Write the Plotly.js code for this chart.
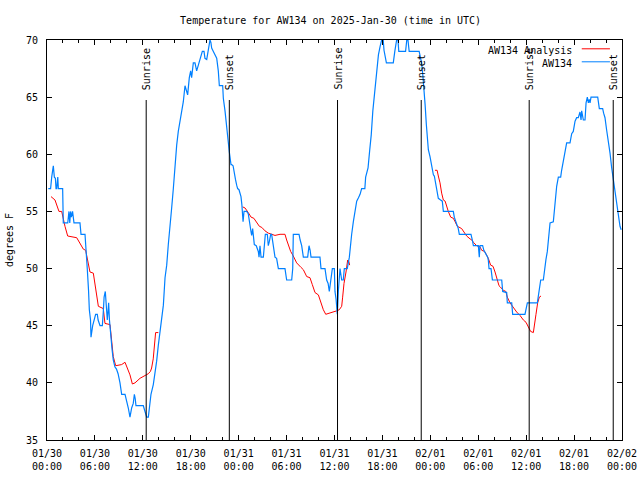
<!DOCTYPE html>
<html>
<head>
<meta charset="utf-8">
<script src="https://cdn.plot.ly/plotly-3.0.1.min.js"></script>
<style>html,body{margin:0;padding:0;background:#fff;}#chart{width:640px;height:480px;}</style>
</head>
<body>
<div id="chart"></div>
<script>
// Hours since 2025-01-30 00:00 UTC
const obsHours = [0.16,0.45,0.59,0.71,0.79,0.92,1.05,1.13,1.21,1.35,1.42,1.54,1.96,2.04,2.6,2.75,2.85,2.95,3.05,3.2,3.38,4.13,4.26,4.76,4.85,4.97,5.05,5.2,5.3,5.45,5.51,5.72,5.9,6.09,6.3,6.4,6.64,6.93,7.05,7.15,7.3,7.4,7.48,7.55,7.65,7.72,7.82,7.97,8.15,8.3,8.5,8.7,8.9,9.14,9.35,9.77,9.98,10.18,10.39,10.6,10.8,10.94,11.05,11.14,12.06,12.2,12.3,12.48,12.69,12.81,13.02,13.31,13.52,13.73,13.94,14.15,14.36,14.57,14.78,14.99,15.19,15.4,15.61,15.82,16.03,16.24,16.44,16.65,16.86,17.07,17.28,17.49,17.61,17.82,17.99,18.11,18.32,18.53,18.74,18.95,19.16,19.45,19.66,19.78,20.0,20.2,20.41,20.52,20.62,20.83,21.25,21.45,21.58,22.0,22.08,22.29,22.5,22.7,22.83,23.04,23.12,23.3,23.46,23.6,23.75,23.87,24.04,24.29,24.4,24.5,24.55,24.67,25.0,25.2,25.33,25.55,25.63,25.75,25.96,26.2,26.46,26.55,26.67,26.8,27.09,27.2,27.34,27.59,27.71,27.85,28.01,28.13,28.25,28.42,28.55,28.75,28.97,29.8,30.01,30.64,30.77,30.84,31.56,31.7,31.89,32.1,32.64,32.81,32.95,33.06,34.18,34.31,34.81,35.02,35.2,35.35,35.56,35.73,35.98,36.06,36.2,36.35,36.48,36.69,36.9,37.1,37.23,37.6,37.86,38.0,38.15,38.36,38.57,38.78,39.0,39.2,39.4,39.8,39.9,40.2,40.4,40.6,40.8,41.1,41.3,41.5,41.7,41.9,42.1,42.2,42.5,43.36,43.55,43.78,43.95,44.05,44.9,45.05,45.2,45.35,46.6,46.75,46.9,47.05,47.2,47.35,47.5,47.75,47.96,48.17,48.38,48.5,48.71,48.85,49.0,49.29,49.5,49.63,50.88,51.0,51.2,51.35,51.5,51.63,53.09,53.26,53.39,54.01,54.13,54.22,54.55,54.7,55.18,55.26,55.35,55.6,55.77,56.94,57.06,57.56,57.64,58.19,58.31,59.85,60.0,60.15,61.4,61.52,61.65,61.82,62.15,62.23,62.36,62.48,62.65,62.78,62.99,63.4,63.53,63.69,63.82,64.03,64.32,64.44,64.66,64.86,65.07,65.49,65.7,65.9,66.12,66.32,66.53,66.74,66.87,66.95,67.16,67.37,67.5,67.66,67.79,67.9,68.0,68.12,68.96,69.16,69.58,69.7,69.87,70.08,70.29,70.5,70.71,70.92,71.13,71.33,71.54,71.75,71.9];
const obsTemp = [57,57,58,58.5,59,58,57.9,57,57,58,57,57,57,54,54,55,54,55,54.5,55,54,54,53,53,52.2,51,49.9,48.1,46.4,45.5,44,45,45.5,46,46,45.5,45,45,46.2,47.5,48,47,46.3,45.5,46.3,47,45.5,44,42.9,42,41.4,41.2,40.8,40,39,39,38.5,37.8,37,37.8,38.2,39,38.6,38,38,37.6,37.3,37,37,38,39,39.85,40.7,41.9,43.3,44.5,45.7,46.8,49.2,50.3,52.1,53.5,55.3,57,59.1,60.8,62,62.9,63.8,64.6,66,65.5,65.2,66.7,67.3,66.7,68,68,67.3,67.8,68.4,69,69,68.4,68.3,69,70,69.8,69.3,69,68.4,67.3,66,66,64.9,63.8,62.3,60.8,60.2,59.1,59.1,59,58.2,57.8,57.3,57,56.9,56.3,55.6,54.5,54.1,55,55,54.8,54,53.2,52.9,53.5,52.1,52,51.5,51,52,51,51,52,53,53,52,52.4,53,53,52.3,51.8,51,50.9,50,50,49,49,50,53,53,52.5,52,51,51,52,51.6,51,51,50,50,49,48.7,48,49,50,50,48,47.3,46,48,50,49,49,50,50,51,52.1,53,54.1,55,55.9,56.2,56.5,57,57,58,58.8,60.3,61.7,63.8,65.8,67.5,68.7,69.4,70,70,69.1,68,68,69,70,70,69,69,70,70,69,69,68.6,68,67,65.8,64.3,62.6,60.4,59.8,58.9,58.2,58.1,57.2,57,56.15,56,55.9,55,55,54.5,54.1,53.9,53.5,53,53,52.5,52,52,51,52,52,51.6,51,50.75,50,50,49,49,48,47.9,47,47,46,46,46.5,47,47,47.5,48.4,49,49,49.6,50.2,50.8,51.5,52.5,54,54.1,55.1,56.3,57.2,58,58,58.6,59.5,60.4,61,61,61.8,62,62.9,63.2,63.2,63.7,63,63.8,63,63,64.5,65,64.5,64.8,64.5,65,65,64,64,63.6,63.2,62.1,61.2,60.1,58.8,57.8,56.6,55.7,54.8,53.7,53.4];

const anaHours = [0.5,1.0,1.5,1.84,2.25,2.59,3.72,4.55,4.84,5.38,5.8,6.22,6.43,7.05,7.26,7.89,8.1,8.3,8.6,9.35,9.77,10.39,10.69,11.02,11.65,12.27,12.69,12.95,13.1,13.3,13.5,13.6,13.94,
  19.0,
  24.5,24.8,25.2,25.55,25.9,26.26,26.59,26.9,27.3,27.71,28.13,28.55,29.18,29.8,30.01,30.22,30.51,30.84,31.26,31.81,32.1,32.52,32.93,33.22,33.56,33.98,34.31,34.6,34.9,35.44,35.85,36.27,36.6,36.9,37.02,37.19,37.44,37.65,37.8,37.9,
  43.0,
  48.58,48.85,49.0,49.21,49.42,49.63,49.85,50.05,50.25,50.55,50.88,51.1,51.38,51.92,52.13,52.55,52.97,53.2,53.39,53.8,54.22,54.43,54.8,55.05,55.26,55.55,55.85,56.1,56.39,56.6,56.75,57.14,57.45,57.64,57.98,58.27,58.81,59.23,59.65,59.98,60.27,60.56,60.9,61.1,61.23,61.44,61.65,61.86];
const anaTemp = [56.3,56.0,55.0,55.0,53.7,52.85,52.7,51.7,51.6,49.7,49.6,47.8,46.7,46.5,45.2,45.1,43.5,42.3,41.5,41.6,41.8,40.7,39.9,40.0,40.4,40.6,40.8,41.0,41.3,42.1,43.8,44.4,44.4,
  null,
  55.4,55.3,54.9,54.5,54.4,54.0,53.7,53.6,53.3,53.1,53.0,52.9,53.0,53.0,52.5,52.1,51.5,51.1,50.5,50.1,49.9,49.3,49.2,48.6,47.9,47.7,47.0,46.4,46.0,46.1,46.2,46.3,46.4,46.7,47.5,48.7,49.7,50.75,50.6,50.3,
  null,
  58.6,58.6,58.1,57.5,56.6,56.0,55.9,55.4,55.0,54.5,54.4,54.1,53.7,53.5,53.3,52.85,52.6,52.5,52.3,52.0,51.9,51.6,51.5,51.2,50.9,50.3,50.2,49.7,49.06,48.5,48.4,48.1,48.0,47.5,47.0,46.7,46.2,45.9,45.5,45.3,44.9,44.5,44.4,45.2,46.0,47.0,47.5,47.6];

const sunriseHours = [12.42, 36.38, 60.38];
const sunsetHours = [22.83, 46.86, 70.9];

const xTickVals = [0,6,12,18,24,30,36,42,48,54,60,66,72];
const xTickText = ['01/30<br>00:00','01/30<br>06:00','01/30<br>12:00','01/30<br>18:00','01/31<br>00:00','01/31<br>06:00','01/31<br>12:00','01/31<br>18:00','02/01<br>00:00','02/01<br>06:00','02/01<br>12:00','02/01<br>18:00','02/02<br>00:00'];
const yTickVals = [35,40,45,50,55,60,65,70];

const seriesNames = ['AW134 Analysis','AW134'];
const seriesColors = ['#ff0000','#0080ff'];
const titleText = 'Temperature for AW134 on 2025-Jan-30 (time in UTC)';

const FONT = {family: 'DejaVu Sans Mono, Liberation Mono, monospace', size: 10, color: '#000'};

const traces = [
  {x: anaHours, y: anaTemp, type: 'scatter', mode: 'lines', connectgaps: false,
   line: {color: seriesColors[0], width: 1}, name: seriesNames[0], hoverinfo: 'skip'},
  {x: obsHours, y: obsTemp, type: 'scatter', mode: 'lines',
   line: {color: seriesColors[1], width: 1.2}, name: seriesNames[1], hoverinfo: 'skip'}
];

const shapes = [];
const annotations = [];
const sunEvents = [];
sunriseHours.forEach(h => sunEvents.push({h: h, label: 'Sunrise'}));
sunsetHours.forEach(h => sunEvents.push({h: h, label: 'Sunset'}));
sunEvents.forEach(ev => {
  shapes.push({type: 'line', xref: 'x', yref: 'paper', x0: ev.h, x1: ev.h, y0: 0, y1: 0.85,
               line: {color: '#000', width: 1}});
  annotations.push({xref: 'x', yref: 'paper', x: ev.h, y: 0.87, text: ev.label, showarrow: false,
                    textangle: -90, xanchor: 'center', yanchor: 'bottom', font: FONT});
});

// Legend (gnuplot style: text then sample line)
const legendRows = [0.975, 0.9425];
seriesNames.forEach((nm, i) => {
  annotations.push({xref: 'paper', yref: 'paper', x: 0.9165, y: legendRows[i], text: nm,
                    showarrow: false, xanchor: 'right', yanchor: 'middle', font: FONT});
  shapes.push({type: 'line', xref: 'paper', yref: 'paper', x0: 0.93, x1: 0.979,
               y0: legendRows[i] + 0.003, y1: legendRows[i] + 0.003,
               line: {color: seriesColors[i], width: 1}});
});

const layout = {
  width: 640, height: 480,
  margin: {l: 47, r: 18, t: 40, b: 40, pad: 0},
  paper_bgcolor: '#fff', plot_bgcolor: '#fff',
  showlegend: false,
  font: FONT,
  title: {text: titleText, font: FONT, x: 0.5166, xref: 'container', xanchor: 'center',
          y: 1 - 20/480, yref: 'container', yanchor: 'middle'},
  xaxis: {range: [0, 72], tickvals: xTickVals, ticktext: xTickText, ticks: 'inside', ticklen: 5,
          tickcolor: '#000', showline: true, linecolor: '#000', linewidth: 1, mirror: 'ticks',
          showgrid: false, zeroline: false, tickfont: FONT, ticklabelstandoff: 4,
          minor: {dtick: 2, tick0: 0, ticks: 'inside', ticklen: 3, tickcolor: '#000', showgrid: false}},
  yaxis: {range: [35, 70], tickvals: yTickVals, ticks: 'inside', ticklen: 5, tickcolor: '#000',
          showline: true, linecolor: '#000', linewidth: 1, mirror: 'ticks', showgrid: false,
          zeroline: false, tickfont: FONT, ticklabelstandoff: 6,
          title: {text: 'degrees F', font: FONT, standoff: 10}},
  shapes: shapes,
  annotations: annotations
};

Plotly.newPlot('chart', traces, layout, {staticPlot: true, displayModeBar: false});
</script>
</body>
</html>
